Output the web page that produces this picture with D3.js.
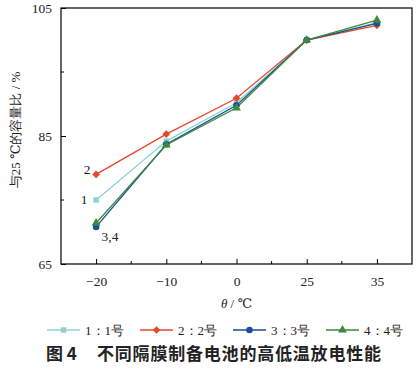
<!DOCTYPE html>
<html><head><meta charset="utf-8">
<script src="https://cdn.jsdelivr.net/npm/d3@7"></script>
<style>body{margin:0;background:#fff}svg{display:block}</style>
</head><body>
<svg id="c" width="418" height="372"></svg>
<script>
const categories = ["-20", "-10", "0", "25", "35"];
const tickLabels = ["\u221220", "\u221210", "0", "25", "35"];
const s1 = [75.0, 84.2, 90.2, 100.0, 102.7];
const s2 = [79.0, 85.3, 90.9, 100.0, 102.3];
const s3 = [70.8, 83.7, 89.8, 100.0, 102.6];
const s4 = [71.4, 83.6, 89.4, 100.0, 103.1];
const seriesNames = ["1：1号", "2：2号", "3：3号", "4：4号"];
const yTicks = [65, 85, 105];
const yMinor = [75, 95];

const colors = ["#8fd3d0", "#e8472b", "#1c4e9a", "#3d8a3d"];
const symbols = [d3.symbolSquare, d3.symbolSquare, d3.symbolCircle, d3.symbolTriangle];
const symRot = [0, 45, 0, 0];
const symSize = [30, 30, 34, 34];
const series = [s1, s2, s3, s4];

const svg = d3.select("#c");
const L = 61, R = 412, T = 8, B = 264;
const x = d3.scalePoint().domain(categories).range([L, R]).padding(0.5);
const y = d3.scaleLinear().domain([65, 105]).range([B, T]);
const serif = "'Liberation Serif','DejaVu Serif',serif";

svg.append("rect").attr("x", L).attr("y", T).attr("width", R - L).attr("height", B - T)
  .attr("fill", "none").attr("stroke", "#000").attr("stroke-width", 1.2);

const xa = svg.append("g").attr("transform", `translate(0,${B})`)
  .call(d3.axisBottom(x).tickSize(-5).tickFormat((d, i) => tickLabels[i]).tickPadding(12));
xa.select(".domain").remove();
xa.selectAll("line").attr("stroke", "#000").attr("stroke-width", 1);
xa.selectAll("text").attr("font-family", serif).attr("font-size", 13.5).attr("fill", "#222");
const step = x.step();
categories.slice(0, -1).forEach(c => {
  svg.append("line").attr("x1", x(c) + step / 2).attr("x2", x(c) + step / 2)
    .attr("y1", B).attr("y2", B - 3).attr("stroke", "#000");
});

const ya = svg.append("g").attr("transform", `translate(${L},0)`)
  .call(d3.axisLeft(y).tickValues(yTicks).tickSize(-5).tickPadding(9));
ya.select(".domain").remove();
ya.selectAll("line").attr("stroke", "#000");
ya.selectAll("text").attr("font-family", serif).attr("font-size", 13.5).attr("fill", "#222");
yMinor.forEach(v => {
  svg.append("line").attr("x1", L).attr("x2", L + 3).attr("y1", y(v)).attr("y2", y(v)).attr("stroke", "#000");
});

svg.append("text").attr("transform", `translate(20,130) rotate(-90)`)
  .attr("text-anchor", "middle").attr("font-family", serif).attr("font-size", 13).attr("fill", "#222")
  .text("与25 ℃的容量比 / %");
const xt = svg.append("text").attr("x", (L + R) / 2).attr("y", 308).attr("text-anchor", "middle")
  .attr("font-family", serif).attr("font-size", 13).attr("fill", "#222");
xt.append("tspan").attr("font-style", "italic").text("θ");
xt.append("tspan").text(" / ℃");

const line = d3.line().x((d, i) => x(categories[i])).y(d => y(d));
series.forEach((s, k) => {
  svg.append("path").datum(s).attr("d", line).attr("fill", "none")
    .attr("stroke", colors[k]).attr("stroke-width", 1.3);
});
series.forEach((s, k) => {
  svg.selectAll(null).data(s).enter().append("path")
    .attr("d", d3.symbol().type(symbols[k]).size(symSize[k]))
    .attr("transform", (d, i) => `translate(${x(categories[i])},${y(d)}) rotate(${symRot[k]})`)
    .attr("fill", colors[k]);
});

const ann = [["2", 87, 174], ["1", 84, 204], ["3,4", 110, 241]];
ann.forEach(a => svg.append("text").attr("x", a[1]).attr("y", a[2]).attr("text-anchor", "middle")
  .attr("font-family", serif).attr("font-size", 13.5).attr("fill", "#222").text(a[0]));

const legX = [47, 140, 233, 326];
seriesNames.forEach((n, k) => {
  const g = svg.append("g").attr("transform", `translate(${legX[k]},330)`);
  g.append("line").attr("x1", 0).attr("x2", 33).attr("y1", 0).attr("y2", 0)
    .attr("stroke", colors[k]).attr("stroke-width", 1.3);
  g.append("path").attr("d", d3.symbol().type(symbols[k]).size(symSize[k]))
    .attr("transform", `translate(16.5,0) rotate(${symRot[k]})`).attr("fill", colors[k]);
  g.append("text").attr("x", 38).attr("y", 4.5).attr("font-family", serif)
    .attr("font-size", 13).attr("fill", "#222").text(n);
});

const cap = svg.append("text").attr("y", 360).attr("font-family", "'Noto Sans CJK SC',sans-serif")
  .attr("font-weight", "bold").attr("font-size", 17).attr("fill", "#222");
cap.append("tspan").attr("x", 46).text("图 4");
cap.append("tspan").attr("x", 97).attr("letter-spacing", 0.8).text("不同隔膜制备电池的高低温放电性能");
</script>
</body></html>
